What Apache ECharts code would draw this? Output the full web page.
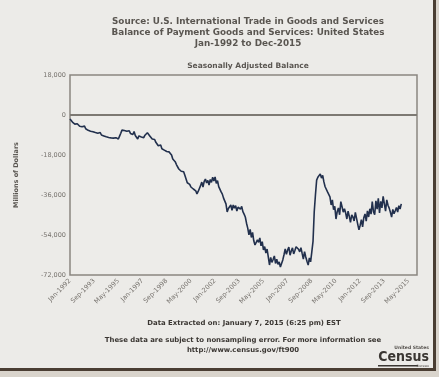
<!DOCTYPE html>
<html>
<head>
<meta charset="utf-8">
<script src="https://cdn.jsdelivr.net/npm/echarts@6/dist/echarts.min.js"></script>
<style>
    html, body { margin: 0; padding: 0; background: #ecebe8; }
    #chart { width: 439px; height: 377px; }
</style>
</head>
<body>
<div id="chart"></div>
<script>
// monthly balance, millions of dollars, Jan-1992 .. Nov-2014
var years = [];
for (var y = 1992; y <= 2015; y++) years.push(y);
var monthNames = ['Jan', 'Feb', 'Mar', 'Apr', 'May', 'Jun', 'Jul', 'Aug', 'Sep', 'Oct', 'Nov', 'Dec'];

var bal1992 = [-1800, -2600, -3200, -3500, -4100, -4600, -3900, -4700, -5100, -4800, -5300, -5400];
var bal1993 = [-5000, -6200, -5800, -6900, -6400, -7300, -6800, -7500, -7100, -7900, -7400, -8200];
var bal1994 = [-8500, -7900, -9000, -8600, -9400, -8900, -9800, -9200, -10100, -9600, -10300, -9900];
var bal1995 = [-10400, -10900, -10200, -11000, -10800, -9500, -8200, -6800, -7400, -7000, -7900, -7300];
var bal1996 = [-7800, -7100, -8300, -7600, -8800, -7400, -9200, -8600, -10800, -9400, -8700, -9900];
var bal1997 = [-9600, -10200, -9100, -8700, -8000, -8600, -9400, -9900, -10800, -11500, -11000, -12300];
var bal1998 = [-12900, -13800, -14400, -13500, -15200, -14700, -15800, -15300, -16400, -15900, -16600, -16200];
var bal1999 = [-18000, -19800, -19200, -21000, -22300, -21600, -24300, -23700, -25300, -26200, -25500, -27100];
var bal2000 = [-28800, -30500, -29800, -31200, -32400, -31600, -33300, -32700, -34100, -35500, -34400, -33500];
var bal2001 = [-31800, -30200, -32400, -29900, -28800, -30600, -29400, -31500, -29000, -30300, -28000, -29700];
var bal2002 = [-27900, -30800, -29500, -32200, -33100, -34600, -35600, -37400, -38200, -40000, -43600, -42100];
var bal2003 = [-42000, -40500, -42900, -40500, -41900, -40800, -43200, -41500, -40600, -42400, -41100, -43500];
var bal2004 = [-44600, -45900, -48700, -50900, -53900, -51500, -55100, -52800, -56600, -58500, -59400, -56200];
var bal2005 = [-57300, -55300, -58900, -57000, -60700, -59200, -62100, -60300, -63800, -67500, -64100, -66300];
var bal2006 = [-65000, -63400, -66800, -64900, -67200, -66100, -68400, -67700, -65200, -62900, -60300, -62700];
var bal2007 = [-60800, -59400, -63100, -61200, -59800, -62500, -61000, -59300, -58500, -60400, -61600, -59700];
var bal2008 = [-62300, -64800, -61500, -63900, -65800, -67500, -64300, -66100, -61600, -56900, -43600, -36000];
var bal2009 = [-29300, -28000, -27600, -26500, -28400, -27200, -30100, -32300, -31400, -34600, -33900, -36800];
var bal2010 = [-40500, -38200, -42600, -41100, -46800, -43500, -41800, -44900, -39000, -41300, -43700, -42200];
var bal2011 = [-44100, -46800, -43300, -45600, -48300, -44900, -45900, -47700, -43800, -46500, -49200, -51700];
var bal2012 = [-49600, -47100, -50300, -46200, -44500, -47800, -43100, -45900, -42200, -44600, -39000, -43500];
var bal2013 = [-44900, -38600, -42400, -37500, -44100, -38900, -41800, -36600, -37000, -43300, -38200, -40600];
var bal2014 = [-41900, -43800, -45900, -42500, -44400, -43100, -41600, -43700, -40800, -42300, -40000];

var balance = [].concat(bal1992, bal1993, bal1994, bal1995, bal1996, bal1997, bal1998, bal1999,
    bal2000, bal2001, bal2002, bal2003, bal2004, bal2005, bal2006, bal2007, bal2008, bal2009,
    bal2010, bal2011, bal2012, bal2013, bal2014);

var categories = [];
years.forEach(function (yr) {
    monthNames.forEach(function (m) {
        categories.push(m + '-' + yr);
    });
});

var titleLines = [
    'Source: U.S. International Trade in Goods and Services',
    'Balance of Payment Goods and Services: United States',
    'Jan-1992 to Dec-2015'
];

var footFont = 'bold 6.9px "DejaVu Sans"';

var myChart = echarts.init(document.getElementById('chart'));
var option = {
    backgroundColor: '#ecebe8',
    animation: false,
    title: [
        {
            text: titleLines.join('\n'),
            left: 243,
            top: 11,
            textAlign: 'center',
            textStyle: {
                fontFamily: 'DejaVu Sans',
                fontSize: 8.8,
                fontWeight: 'bold',
                color: '#5a5651',
                lineHeight: 11
            }
        },
        {
            text: 'Seasonally Adjusted Balance',
            left: 243,
            top: 57,
            textAlign: 'center',
            textStyle: {
                fontFamily: 'DejaVu Sans',
                fontSize: 7.5,
                fontWeight: 'bold',
                color: '#5a5651'
            }
        }
    ],
    grid: {
        left: 70,
        right: 22,
        top: 75,
        bottom: 102,
        show: true,
        borderColor: '#8a8680',
        borderWidth: 1.5,
        backgroundColor: '#edece9'
    },
    xAxis: {
        type: 'category',
        data: categories,
        boundaryGap: false,
        axisLine: {show: false},
        axisTick: {show: false},
        axisLabel: {
            interval: 19,
            rotate: 45,
            fontFamily: 'DejaVu Sans',
            fontSize: 6.5,
            color: '#77736e',
            margin: 5
        },
        splitLine: {show: false}
    },
    yAxis: {
        type: 'value',
        min: -72000,
        max: 18000,
        interval: 18000,
        name: 'Millions of Dollars',
        nameLocation: 'middle',
        nameGap: 50,
        nameRotate: 90,
        nameTextStyle: {
            fontFamily: 'DejaVu Sans',
            fontSize: 6.5,
            fontWeight: 'bold',
            color: '#5a5651'
        },
        axisLine: {show: false},
        axisTick: {show: false},
        splitLine: {show: false},
        axisLabel: {
            fontFamily: 'DejaVu Sans',
            fontSize: 6.5,
            color: '#77736e',
            margin: 4,
            formatter: function (v) {
                return v.toLocaleString('en-US');
            }
        }
    },
    series: [
        {
            type: 'line',
            data: balance,
            showSymbol: false,
            lineStyle: {color: '#22304d', width: 1.6},
            markLine: {
                silent: true,
                symbol: 'none',
                label: {show: false},
                lineStyle: {color: '#7d7973', width: 2, type: 'solid'},
                data: [{yAxis: 0}]
            }
        }
    ],
    graphic: [
        {
            type: 'text', x: 244, y: 320,
            style: {
                text: 'Data Extracted on: January 7, 2015 (6:25 pm) EST',
                font: footFont, fill: '#3a3632', align: 'center'
            }
        },
        {
            type: 'text', x: 243, y: 337,
            style: {
                text: 'These data are subject to nonsampling error. For more information see',
                font: footFont, fill: '#3a3632', align: 'center'
            }
        },
        {
            type: 'text', x: 243, y: 347,
            style: {
                text: 'http://www.census.gov/ft900',
                font: footFont, fill: '#3a3632', align: 'center'
            }
        },
        {
            type: 'text', x: 429, y: 345,
            style: {text: 'United States', font: 'bold 4.5px "DejaVu Sans"', fill: '#55514d', align: 'right'}
        },
        {
            type: 'text', x: 429, y: 350,
            style: {text: 'Census', font: 'bold 14px "DejaVu Sans Condensed"', fill: '#3a3632', align: 'right'}
        },
        {
            type: 'rect', shape: {x: 378, y: 365, width: 40, height: 1.5},
            style: {fill: '#3a3632'}
        },
        {
            type: 'text', x: 429, y: 364,
            style: {text: 'Bureau', font: '3.5px "DejaVu Sans"', fill: '#55514d', align: 'right'}
        },
        {
            type: 'rect', shape: {x: 0, y: 368, width: 439, height: 3},
            style: {fill: '#4a3e33'}
        },
        {
            type: 'rect', shape: {x: 0, y: 371, width: 439, height: 6},
            style: {fill: '#d9d4cc'}
        },
        {
            type: 'rect', shape: {x: 433, y: 0, width: 3, height: 371},
            style: {fill: '#4a3e33'}
        },
        {
            type: 'rect', shape: {x: 436, y: 0, width: 3, height: 377},
            style: {fill: '#d9d4cc'}
        }
    ]
};
if (option && typeof option === 'object') {
    myChart.setOption(option, true);
}
</script>
</body>
</html>
